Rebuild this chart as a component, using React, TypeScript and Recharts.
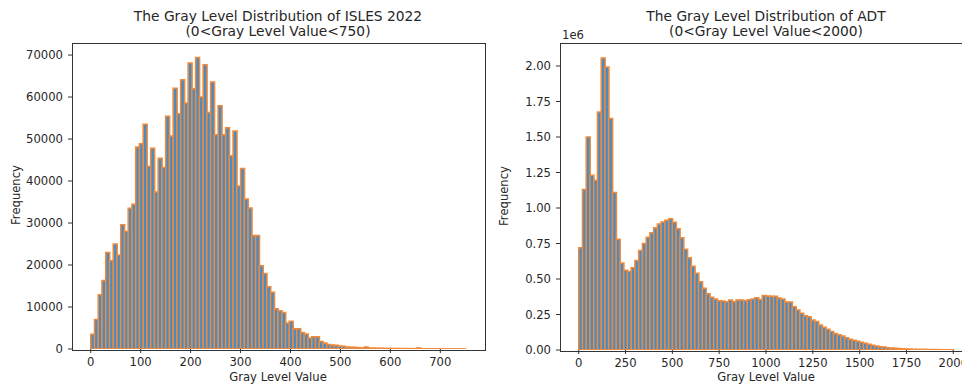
import React from 'react';
import { BarChart, Bar, XAxis, YAxis } from 'recharts';

// ISLES 2022: 100 bins of width 7.5 over 0..750
const islesCounts = [
  3500, 7000, 12900, 16300, 23000, 21000, 25000, 22400, 29600, 28000,
  33500, 34500, 48100, 48900, 53500, 43500, 47800, 37400, 45400, 43200,
  55400, 50700, 62100, 56000, 64100, 58600, 68100, 62000, 69400, 60000,
  67700, 56300, 63600, 51000, 57900, 51000, 52700, 46000, 51900, 38800,
  43000, 35700, 33600, 27000, 27000, 19800, 18000, 14800, 13500, 9600,
  9100, 8700, 6200, 6600, 4800, 4800, 3900, 3600, 2600, 2900,
  2900, 1800, 1400, 1100, 950, 870, 700, 630, 480, 400,
  400, 320, 260, 480, 250, 220, 200, 180, 160, 150,
  130, 120, 110, 100, 95, 90, 80, 250, 70, 60,
  55, 50, 45, 40, 40, 35, 30, 30, 25, 20,
];
const islesBinWidth = 7.5;
const islesXTicks = [0, 100, 200, 300, 400, 500, 600, 700];
const islesYTicks = [0, 10000, 20000, 30000, 40000, 50000, 60000, 70000];

// ADT: 100 bins of width 20 over 0..2000, counts in units of 1e6
const adtCounts = [
  0.72, 1.13, 1.5, 1.23, 1.195, 1.676, 2.056, 1.993, 1.63, 1.11,
  0.78, 0.613, 0.561, 0.552, 0.58, 0.63, 0.7, 0.75, 0.794, 0.826,
  0.861, 0.887, 0.901, 0.913, 0.925, 0.9, 0.854, 0.79, 0.71, 0.65,
  0.59, 0.54, 0.48, 0.434, 0.397, 0.371, 0.359, 0.347, 0.345, 0.34,
  0.352, 0.34, 0.352, 0.352, 0.347, 0.354, 0.359, 0.368, 0.356, 0.383,
  0.38, 0.378, 0.378, 0.366, 0.359, 0.338, 0.338, 0.305, 0.282, 0.258,
  0.242, 0.235, 0.211, 0.2, 0.176, 0.16, 0.146, 0.13, 0.117, 0.108,
  0.098, 0.087, 0.075, 0.068, 0.061, 0.054, 0.047, 0.04, 0.033, 0.028,
  0.023, 0.021, 0.016, 0.014, 0.012, 0.01, 0.008, 0.007, 0.006, 0.005,
  0.004, 0.004, 0.004, 0.003, 0.003, 0.003, 0.002, 0.002, 0.002, 0.002,
];
const adtBinWidth = 20;
const adtXTicks = [0, 250, 500, 750, 1000, 1250, 1500, 1750, 2000];
const adtYTicks = [0, 0.25, 0.5, 0.75, 1, 1.25, 1.5, 1.75, 2];

const FONT = '"DejaVu Sans", Verdana, sans-serif';
const BLUE = '#4a8cc2';
const ORANGE = '#f28a3a';
const INK = '#262626';
const AXIS = '#333';
const H = 389;
const Y_W = 60;
const X_H = 30;

type HistProps = {
  counts: number[];
  binWidth: number;
  xTicks: number[];
  yTicks: number[];
  yMax: number;
  yFormat: (v: number) => string;
  left: number;
  width: number;
  plot: { l: number; r: number; t: number; b: number };
  title: string[];
  sci?: string;
};

const Histogram: React.FC<HistProps> = ({ counts, binWidth, xTicks, yTicks, yMax, yFormat, left, width, plot, title, sci }) => {
  const data = counts.map((c, i) => ({ bin: i, x: (i + 0.5) * binWidth, count: c }));
  const span = counts.length * binWidth;
  const xMin = -0.05 * span;
  const xMax = span * 1.05;
  const pxPerUnit = (plot.r - plot.l) / (xMax - xMin);
  const pad = -xMin * pxPerUnit;
  const tickStyle = { fontSize: 11.6, fill: INK, fontFamily: FONT };
  const center = left + (plot.l + plot.r) / 2;
  const textBase: React.CSSProperties = { position: 'absolute', fontFamily: FONT, color: INK, whiteSpace: 'nowrap' };

  return (
    <>
      <div style={{ ...textBase, left: center - 200, width: 400, top: 9, textAlign: 'center', fontSize: 13.8, lineHeight: '15px' }}>
        {title.map(t => <div key={t}>{t}</div>)}
      </div>
      <div style={{ ...textBase, left: center - 100, width: 200, top: 370, textAlign: 'center', fontSize: 11.6 }}>Gray Level Value</div>
      <div style={{ ...textBase, left: left + plot.l - 56 - 50, width: 100, top: (plot.t + plot.b) / 2 - 8, textAlign: 'center', fontSize: 11.6, transform: 'rotate(-90deg)' }}>Frequency</div>
      {sci && <div style={{ ...textBase, left: left + plot.l + 2, top: plot.t - 15, fontSize: 11.6 }}>{sci}</div>}
      <div style={{ position: 'absolute', left, top: 0 }}>
        <BarChart
          width={width}
          height={H}
          data={data}
          margin={{ top: plot.t, right: width - plot.r, bottom: H - plot.b - X_H, left: plot.l - Y_W }}
          barCategoryGap={0}
          barGap={0}
        >
          <XAxis
            xAxisId="val"
            dataKey="x"
            type="number"
            domain={[xMin, xMax]}
            allowDataOverflow
            ticks={xTicks}
            interval={0}
            height={X_H}
            tickSize={4}
            tickMargin={5}
            tick={tickStyle}
            axisLine={false}
            tickLine={{ stroke: AXIS }}
          />
          <XAxis xAxisId="bins" dataKey="bin" type="category" hide height={0} padding={{ left: pad, right: pad }} />
          <YAxis
            type="number"
            domain={[0, yMax]}
            allowDataOverflow
            ticks={yTicks}
            interval={0}
            width={Y_W}
            tickSize={4}
            tickMargin={5}
            tick={tickStyle}
            tickFormatter={yFormat}
            axisLine={false}
            tickLine={{ stroke: AXIS }}
          />
          <Bar dataKey="count" xAxisId="bins" fill={BLUE} stroke={ORANGE} strokeWidth={1.5} isAnimationActive={false} />
        </BarChart>
      </div>
      <div
        style={{
          position: 'absolute',
          left: left + plot.l - 0.5,
          top: plot.t - 0.5,
          width: plot.r - plot.l,
          height: plot.b - plot.t,
          border: `1px solid ${AXIS}`,
          pointerEvents: 'none',
        }}
      />
    </>
  );
};

export default function App() {
  return (
    <div style={{ position: 'absolute', left: 0, top: 0, width: 962, height: H, overflow: 'hidden', background: '#fff' }}>
      <Histogram
        counts={islesCounts}
        binWidth={islesBinWidth}
        xTicks={islesXTicks}
        yTicks={islesYTicks}
        yMax={72870}
        yFormat={v => String(v)}
        left={0}
        width={490}
        plot={{ l: 72, r: 484, t: 43, b: 349 }}
        title={['The Gray Level Distribution of ISLES 2022', '(0<Gray Level Value<750)']}
      />
      <Histogram
        counts={adtCounts}
        binWidth={adtBinWidth}
        xTicks={adtXTicks}
        yTicks={adtYTicks}
        yMax={2.162}
        yFormat={v => v.toFixed(2)}
        left={490}
        width={490}
        plot={{ l: 70, r: 482, t: 43, b: 350 }}
        title={['The Gray Level Distribution of ADT', '(0<Gray Level Value<2000)']}
        sci="1e6"
      />
    </div>
  );
}
